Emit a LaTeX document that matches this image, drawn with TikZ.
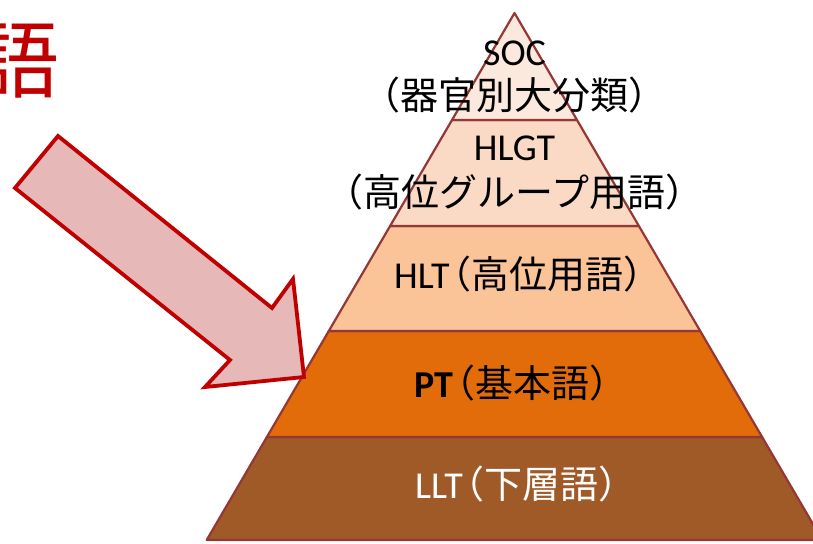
\documentclass[tikz,border=0pt]{standalone}
\usepackage{fontspec}
\setmainfont{Carlito}
\newfontfamily\jp{Noto Sans CJK JP}
\newfontfamily\jph[RawFeature=+halt]{Noto Sans CJK JP}
\definecolor{edgec}{HTML}{953735}
\definecolor{socfill}{HTML}{FCE9DE}
\definecolor{hlgtfill}{HTML}{FADAC4}
\definecolor{hltfill}{HTML}{FAC398}
\definecolor{ptfill}{HTML}{E36C0A}
\definecolor{lltfill}{HTML}{A05A28}
\definecolor{arrowred}{HTML}{C00000}
\definecolor{arrowfill}{HTML}{E6B9B8}
\newcommand{\openpar}{\hspace{3pt}{\jph（}}
\tikzset{
  layer/.style={draw=edgec, line width=2.2pt, line join=round},
  lbl/.style={inner sep=0pt, anchor=base, font=\fontsize{38}{44}\selectfont},
  lblw/.style={lbl, anchor=base west},
  bigarrow/.style={draw=arrowred, fill=arrowfill, line width=3.8pt, line join=miter},
}
\begin{document}
\begin{tikzpicture}[x=1pt,y=-1pt]
\useasboundingbox (0,0) rectangle (813,543);
% red title fragment
\node[inner sep=0pt, anchor=base east, text=arrowred, font=\jp\fontsize{84}{90}\selectfont] (title) at (60,91) {語};
% pyramid corners
\coordinate (apex) at (514.5,13);
\coordinate (a1) at (452,120);  \coordinate (b1) at (577,120);
\coordinate (a2) at (390.1,226); \coordinate (b2) at (638.9,226);
\coordinate (a3) at (328.8,331); \coordinate (b3) at (700.2,331);
\coordinate (a4) at (266.9,437); \coordinate (b4) at (762.1,437);
\coordinate (a5) at (206.7,540); \coordinate (b5) at (822.3,540);
% layers
\filldraw[layer, fill=lltfill] (a4) -- (b4) -- (b5) -- (a5) -- cycle;
\filldraw[layer, fill=ptfill] (a3) -- (b3) -- (b4) -- (a4) -- cycle;
\filldraw[layer, fill=hltfill] (a2) -- (b2) -- (b3) -- (a3) -- cycle;
\filldraw[layer, fill=hlgtfill] (a1) -- (b1) -- (b2) -- (a2) -- cycle;
\filldraw[layer, fill=socfill] (apex) -- (b1) -- (a1) -- cycle;
% labels
\node[lbl] (soc) at (514.5,65) {SOC};
\node[lbl] (socj) at (514.5,109) {\jp（器官別大分類）};
\node[lbl] (hlgt) at (514.5,160) {HLGT};
\node[lbl] (hlgtj) at (514.5,206) {\jp（高位グループ用語）};
\node[lblw] (hlt) at (394,288) {HLT\openpar\jp 高位用語）};
\node[lblw] (pt) at (414,397) {\textbf{PT}\openpar\jp 基本語）};
\node[lblw, text=white] (llt) at (415,498) {LLT\openpar\jp 下層語）};
% block arrow
\filldraw[bigarrow] (58,136) -- (272,308) -- (293,279) -- (304,377) -- (205,387) -- (230,360) -- (15,188) -- cycle;
\end{tikzpicture}
\end{document}
